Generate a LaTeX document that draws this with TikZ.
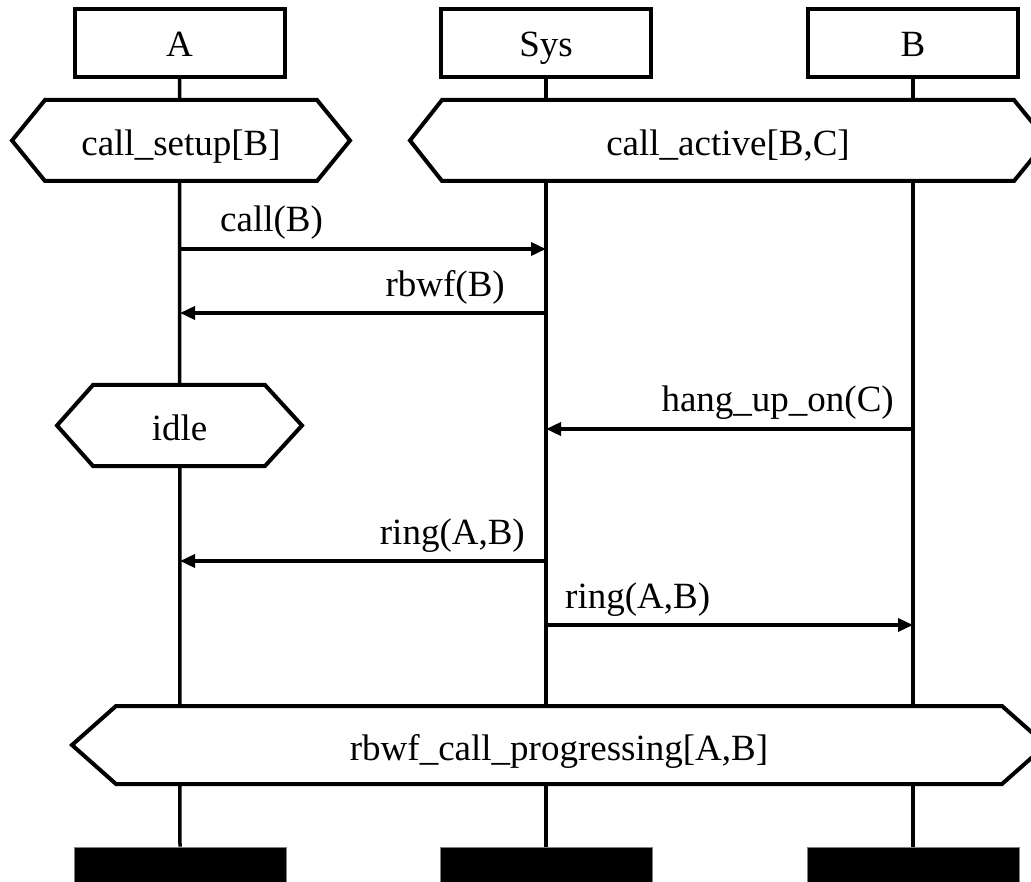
\documentclass[tikz,border=0pt]{standalone}
\usepackage{fontspec}
\setmainfont{Liberation Serif}
\usetikzlibrary{arrows.meta}
\tikzset{
  txt/.style={font=\fontsize{37}{44}\selectfont, inner sep=0pt},
  head/.style={txt, draw, line width=4pt, minimum width=210pt, minimum height=68pt, text height=28pt, text depth=0pt},
  endbar/.style={fill=black, draw=gray, line width=0.8pt, minimum width=212pt, minimum height=40pt, inner sep=0pt},
  life/.style={line width=3.5pt},
  hex/.style={draw, fill=white, line width=4pt, line join=miter},
  statelbl/.style={txt, text height=30pt, text depth=0pt},
  msg/.style={line width=3.5pt, -{Triangle[length=15pt,width=13pt]}},
  lblw/.style={txt, anchor=base west},
  lble/.style={txt, anchor=base east},
}
\begin{document}
\begin{tikzpicture}[x=1pt,y=-1pt]
  \useasboundingbox (0,0) rectangle (1031,882);
  \clip (0,0) rectangle (1031,882);
  \fill[white] (0,0) rectangle (1031,882);

  % heads
  \node[head] (hA) at (179.5,43) {A};
  \node[head] (hS) at (546,43) {Sys};
  \node[head] (hB) at (913,43) {B};

  % end bars
  \node[endbar] (eA) at (180,867) {};
  \node[endbar] (eS) at (546,867) {};
  \node[endbar] (eB) at (913,867) {};

  % lifelines
  \draw[life] (hA.south) -- (eA.north);
  \draw[life] (hS.south) -- (eS.north);
  \draw[life] (hB.south) -- (eB.north);

  % states
  \draw[hex] (12,140.5) -- (45,100) -- (317,100) -- (350,140.5) -- (317,181) -- (45,181) -- cycle;
  \node[statelbl] (st1) at (181,140.5) {call\_setup[B]};

  \draw[hex] (410,140.5) -- (442,100) -- (1014,100) -- (1047,140.5) -- (1014,181) -- (442,181) -- cycle;
  \node[statelbl] (st2) at (728,140.5) {call\_active[B,C]};

  \draw[hex] (57,425.5) -- (93,385) -- (265,385) -- (302,425.5) -- (265,466) -- (93,466) -- cycle;
  \node[statelbl] (st3) at (179.5,425.5) {idle};

  \draw[hex] (72,745) -- (116,706) -- (1002,706) -- (1046,745) -- (1002,784) -- (116,784) -- cycle;
  \node[statelbl] (st4) at (559,745) {rbwf\_call\_progressing[A,B]};

  % message points
  \coordinate (a1) at (180,249);  \coordinate (s1) at (546,249);
  \coordinate (s2) at (546,313);  \coordinate (a2) at (180,313);
  \coordinate (b3) at (913,429);  \coordinate (s3) at (546,429);
  \coordinate (s4) at (546,561);  \coordinate (a4) at (180,561);
  \coordinate (s5) at (546,625);  \coordinate (b5) at (913,625);

  % messages
  \draw[msg] (a1) -- (s1);
  \node[lblw] (m1) at (220,232) {call(B)};
  \draw[msg] (s2) -- (a2);
  \node[lble] (m2) at (505,297) {rbwf(B)};
  \draw[msg] (b3) -- (s3);
  \node[lble] (m3) at (894,412) {hang\_up\_on(C)};
  \draw[msg] (s4) -- (a4);
  \node[lble] (m4) at (525,544) {ring(A,B)};
  \draw[msg] (s5) -- (b5);
  \node[lblw] (m5) at (565,608) {ring(A,B)};
\end{tikzpicture}
\end{document}
